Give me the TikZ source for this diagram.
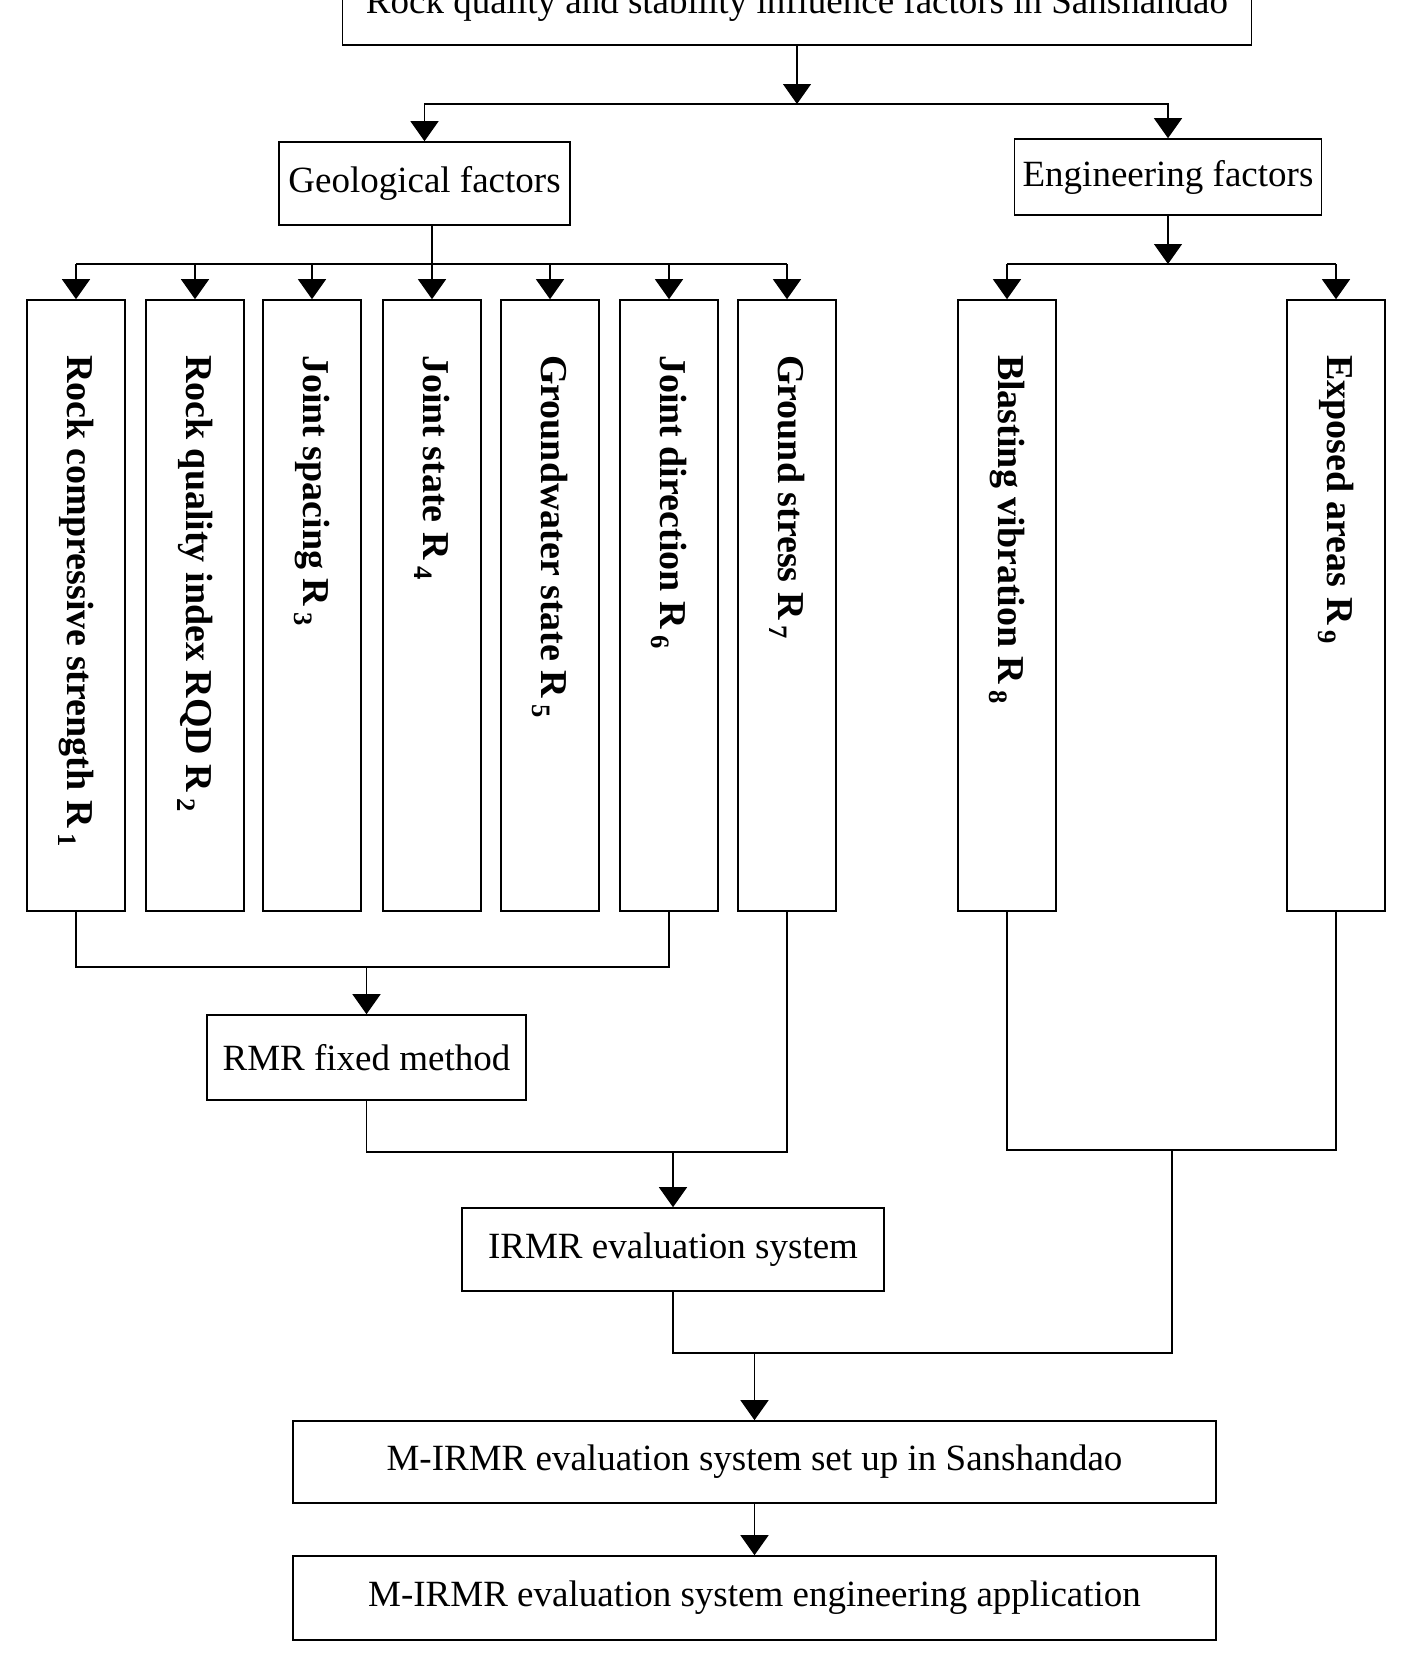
\documentclass[tikz,border=0pt]{standalone}
\usepackage{fontspec}
\setmainfont{Liberation Serif}
\usepackage{graphicx}
\usetikzlibrary{arrows.meta}
\tikzset{
  box/.style={draw, line width=1.6pt, inner sep=0pt, font=\fontsize{37}{40}\selectfont},
  factor/.style={draw, line width=1.6pt, inner sep=0pt, minimum width=98pt, minimum height=611pt, font=\bfseries\fontsize{38}{40}\selectfont},
  link/.style={line width=1.2pt},
  arr/.style={line width=1.2pt, -{Triangle[width=28pt,length=20pt]}}
}
\newcommand{\vlabel}[1]{\rotatebox{-90}{\parbox{501pt}{\raggedright #1}}}

\begin{document}
\begin{tikzpicture}[x=1pt, y=-1pt]
  \useasboundingbox (0,0) rectangle (1404,1674);

  \node[box, minimum width=909pt, minimum height=82pt] (top) at (797,4) {Rock quality and stability influence factors in Sanshandao};
  \node[box, minimum width=291pt, minimum height=83pt] (geo) at (424.5,183.5) {Geological factors};
  \node[box, minimum width=307pt, minimum height=76pt] (eng) at (1168,177) {Engineering factors};

  % factor columns
  \node[factor] (c1) at (76,605.5) {\vlabel{Rock compressive strength R\,\textsubscript{1}}};
  \node[factor] (c2) at (195,605.5) {\vlabel{Rock quality index RQD R\,\textsubscript{2}}};
  \node[factor] (c3) at (312,605.5) {\vlabel{Joint spacing R\,\textsubscript{3}}};
  \node[factor] (c4) at (432,605.5) {\vlabel{Joint state R\,\textsubscript{4}}};
  \node[factor] (c5) at (550,605.5) {\vlabel{Groundwater state R\,\textsubscript{5}}};
  \node[factor] (c6) at (669,605.5) {\vlabel{Joint direction R\,\textsubscript{6}}};
  \node[factor] (c7) at (787,605.5) {\vlabel{Ground stress R\,\textsubscript{7}}};
  \node[factor] (c8) at (1007,605.5) {\vlabel{Blasting vibration R\,\textsubscript{8}}};
  \node[factor] (c9) at (1336,605.5) {\vlabel{Exposed areas R\,\textsubscript{9}}};

  \node[box, minimum width=319pt, minimum height=85pt] (rmr) at (366.5,1057.5) {RMR fixed method};
  \node[box, minimum width=422pt, minimum height=83pt] (irmr) at (673,1249.5) {IRMR evaluation system};
  \node[box, minimum width=923pt, minimum height=82pt] (setup) at (754.5,1462) {M-IRMR evaluation system set up in Sanshandao};
  \node[box, minimum width=923pt, minimum height=84pt] (apply) at (754.5,1598) {M-IRMR evaluation system engineering application};

  % junctions
  \coordinate (split) at (797,104);
  \coordinate (gsplit) at (432,264);
  \coordinate (esplit) at (1168,264);
  \coordinate (rjoin) at (366.5,967);
  \coordinate (ijoin) at (673,1152);
  \coordinate (ejoin) at (1172,1150);
  \coordinate (fjoin) at (754.5,1353);

  \draw[arr] (top.south) -- (split);
  \draw[arr] (split) -| (geo.north);
  \draw[arr] (split) -| (eng.north);

  \draw[link] (geo.south -| gsplit) -- (gsplit);
  \draw[link] (c1.north |- gsplit) -- (c7.north |- gsplit);
  \foreach \c in {c1,c2,c3,c4,c5,c6,c7}
    \draw[arr] (\c.north |- gsplit) -- (\c.north);

  \draw[arr] (eng.south) -- (esplit);
  \draw[link] (c8.north |- esplit) -- (c9.north |- esplit);
  \draw[arr] (c8.north |- esplit) -- (c8.north);
  \draw[arr] (c9.north |- esplit) -- (c9.north);

  \draw[link] (c1.south) |- (c6.south |- rjoin) -- (c6.south);
  \draw[arr] (rjoin) -- (rmr.north);

  \draw[link] (rmr.south) |- (c7.south |- ijoin) -- (c7.south);
  \draw[arr] (ijoin) -- (irmr.north);

  \draw[link] (c8.south) |- (c9.south |- ejoin) -- (c9.south);
  \draw[link] (irmr.south) |- (ejoin |- fjoin) -- (ejoin);
  \draw[arr] (fjoin) -- (setup.north);
  \draw[arr] (setup) -- (apply);
\end{tikzpicture}
\end{document}
